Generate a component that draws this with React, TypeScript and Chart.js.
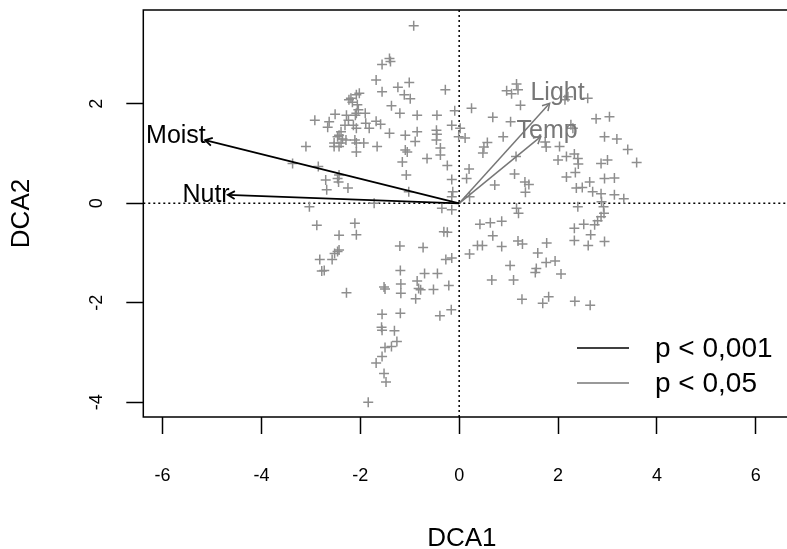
import React, { useEffect, useRef } from "react";
import { Chart, registerables } from "chart.js";

Chart.register(...registerables);

// Site scores (DCA1, DCA2)
const siteX = [
  -0.92, -1.41, -1.56, -1.39, -1.68, -1.56, -1.24, -1.01, -1.11, -0.99,
  -0.28, -1.37, -2.02, -2.08, -2.19, -2.23, -2.16, -2.06, -2.04, -2.08,
  -2.10, -1.90, -2.51, -2.63, -2.66, -2.92, -2.28, -2.24, -2.31, -2.14,
  -2.08, -1.89, -1.82, -1.68, -1.59, -1.41, -2.39, -2.43, -2.46, -2.36,
  -2.39, -2.43, -2.53, -2.53, -2.29, -2.11, -2.08, -1.93, -2.08, -1.66,
  -3.10, -3.37, -2.85, -2.43, -2.46, -2.44, -2.70, -2.68, -2.25, -3.03,
  -1.72, -1.20, -0.85, -0.45, -0.09, -1.09, -0.85, -0.89, -0.46, -0.45,
  -0.46, -0.15, 0.02, -0.01, 0.12, -1.09, -1.05, -0.38, -0.38, -0.65,
  -1.15, -1.07, -0.24, -0.15, 0.20, 0.15, -1.02, -0.13, -0.15, 0.21,
  -0.35, -0.15, 0.25, 0.68, 1.04, 0.96, 1.06, 1.16, 1.19, 1.24,
  0.89, 0.57, 0.50, 0.48, 1.15, 1.12, 0.72, 1.16, 1.20, 2.14,
  2.20, 2.60, 2.77, 3.04, 2.94, 3.19, 3.41, 3.59, 1.74, 1.76,
  2.03, 2.30, 2.26, 2.00, 2.17, 2.33, 2.40, 2.41, 2.17, 2.35,
  2.37, 2.49, 2.64, 2.70, 2.87, 3.00, 2.94, 3.14, 2.87, 3.14,
  3.33, 2.88, 2.40, 2.92, 2.87, 2.80, 2.74, 1.33, 1.41, 1.34,
  -2.88, -2.11, -2.08, -2.43, -2.43, -2.46, -2.52, -2.82, -2.57, -2.78,
  -2.73, -2.28, -1.20, -0.73, -0.31, -0.24, -0.27, -0.15, -1.19, -0.70,
  -0.44, -1.52, -1.50, -1.18, -1.18, -0.85, -0.82, -0.78, -0.52, -0.21,
  -0.88, -1.56, -1.19, -0.39, -0.16, -1.57, -1.56, -1.31, -1.26, -1.37,
  -1.50, -1.56, -1.68, -1.52, -1.48, -1.84, 0.42, 0.63, 0.86, 0.68,
  0.21, 0.37, 0.47, 0.86, 1.03, 0.66, 1.10, 1.19, 1.28, 1.27,
  1.59, 1.77, 1.54, 1.56, 1.76, 1.94, 2.06, 1.69, 1.81, 2.34,
  2.65, 2.33, 2.52, 2.66, 2.33, 2.61, 2.94, 2.93,
];
const siteY = [
  3.57, 2.91, 2.79, 2.85, 2.48, 2.24, 2.33, 2.43, 2.18, 2.10,
  2.28, 1.96, 2.21, 2.18, 2.11, 2.08, 2.03, 1.98, 1.88, 1.81,
  1.77, 1.81, 1.79, 1.64, 1.53, 1.67, 1.77, 1.67, 1.57, 1.57,
  1.51, 1.61, 1.51, 1.65, 1.59, 1.41, 1.44, 1.37, 1.34, 1.29,
  1.21, 1.14, 1.21, 1.14, 1.27, 1.27, 1.21, 1.21, 1.03, 1.14,
  1.14, 0.80, 0.74, 0.57, 0.50, 0.43, 0.47, 0.27, 0.31, -0.07,
  0.00, 1.81, 1.77, 1.77, 1.86, 1.37, 1.44, 1.24, 1.47, 1.39,
  1.27, 1.57, 1.51, 1.34, 1.31, 1.07, 1.03, 1.11, 0.97, 0.90,
  0.83, 0.57, 0.76, 0.48, 0.69, 0.50, 0.23, 0.23, 0.13, 0.13,
  -0.10, -0.13, 1.91, 1.73, 1.64, 2.26, 2.20, 2.40, 2.28, 1.97,
  1.34, 1.22, 1.13, 1.01, 0.94, 0.59, 0.37, -0.10, -0.20, 2.08,
  2.14, 2.11, 1.70, 1.74, 1.34, 1.29, 1.08, 0.82, 1.23, 1.13,
  1.14, 1.51, 1.58, 0.87, 0.94, 0.99, 0.90, 0.79, 0.53, 0.62,
  0.31, 0.32, 0.43, 0.23, 0.80, 0.87, 0.50, 0.51, 0.19, 0.17,
  0.09, 0.03, -0.07, -0.07, -0.27, -0.35, -0.43, 0.43, 0.38, 0.22,
  -0.44, -0.40, -0.63, -0.64, -0.94, -0.97, -1.01, -1.13, -1.13, -1.36,
  -1.35, -1.80, -0.86, -0.89, -0.57, -0.58, -1.13, -1.10, -1.35, -1.41,
  -1.41, -1.68, -1.72, -1.62, -1.81, -1.56, -1.71, -1.74, -1.73, -1.65,
  -1.92, -2.23, -2.21, -2.26, -2.14, -2.49, -2.55, -2.56, -2.78, -2.88,
  -2.90, -3.08, -3.21, -3.42, -3.59, -4.00, -0.42, -0.39, -0.36, -0.65,
  -1.02, -0.85, -0.85, -0.87, -1.25, -1.54, -1.54, -0.76, -0.82, -1.93,
  -1.00, -0.80, -1.39, -1.31, -1.19, -1.16, -1.42, -2.01, -1.88, -1.97,
  -2.05, -0.50, -0.42, -0.63, -0.75, -0.85, -0.77, -0.20,
];

// Fitted environmental vectors
const vectorNames = ["Moist", "Nutr", "Light", "Temp"];
const vectorX = [-5.14, -4.68, 1.83, 1.65];
const vectorY = [1.27, 0.17, 2.01, 1.34];
const vectorLabelX = [-5.73, -5.12, 1.99, 1.78];
const vectorLabelY = [1.35, 0.17, 2.22, 1.45];
const vectorClass = [0, 0, 1, 1];

const legendLabels = ["p < 0,001", "p < 0,05"];
const classColors = ["#000000", "#777777"];

const xTicks = [-6, -4, -2, 0, 2, 4, 6];
const yTicks = [-4, -2, 0, 2];
const xRange = [-6.39, 6.5];
const yRange = [-4.295, 3.885];

const FONT = "'Liberation Sans', Arial, Helvetica, sans-serif";
const POINT_COLOR = "#8e8e8e";
const TICK_FONT_SIZE = 18;

Chart.defaults.font.family = FONT;
Chart.defaults.font.size = TICK_FONT_SIZE;
Chart.defaults.color = "#000";

const overlayPlugin = {
  id: "overlay",
  beforeDatasetsDraw(chart: any) {
    const { ctx, chartArea: a, scales } = chart;
    const x0 = scales.x.getPixelForValue(0);
    const y0 = scales.y.getPixelForValue(0);
    ctx.save();
    ctx.strokeStyle = "#000";
    ctx.lineWidth = 1.5;
    ctx.setLineDash([2, 3]);
    ctx.beginPath();
    ctx.moveTo(x0, a.top);
    ctx.lineTo(x0, a.bottom);
    ctx.moveTo(a.left, y0);
    ctx.lineTo(chart.width, y0);
    ctx.stroke();
    ctx.restore();
  },
  afterDatasetsDraw(chart: any) {
    const { ctx, chartArea: a, scales } = chart;
    const xs = scales.x;
    const ys = scales.y;
    const ox = xs.getPixelForValue(0);
    const oy = ys.getPixelForValue(0);
    ctx.save();
    // arrow heads and labels
    vectorNames.forEach((name, i) => {
      const tx = xs.getPixelForValue(vectorX[i]);
      const ty = ys.getPixelForValue(vectorY[i]);
      const ang = Math.atan2(ty - oy, tx - ox);
      const len = 8;
      const spread = Math.PI / 6;
      const col = classColors[vectorClass[i]];
      ctx.strokeStyle = col;
      ctx.lineWidth = vectorClass[i] === 0 ? 1.8 : 1.5;
      ctx.beginPath();
      ctx.moveTo(tx - len * Math.cos(ang - spread), ty - len * Math.sin(ang - spread));
      ctx.lineTo(tx, ty);
      ctx.lineTo(tx - len * Math.cos(ang + spread), ty - len * Math.sin(ang + spread));
      ctx.stroke();
      ctx.fillStyle = col;
      ctx.font = `25px ${FONT}`;
      ctx.textAlign = "center";
      ctx.textBaseline = "middle";
      ctx.fillText(name, xs.getPixelForValue(vectorLabelX[i]), ys.getPixelForValue(vectorLabelY[i]));
    });
    // box
    ctx.strokeStyle = "#000";
    ctx.lineWidth = 1.5;
    ctx.setLineDash([]);
    ctx.beginPath();
    ctx.moveTo(chart.width, a.top);
    ctx.lineTo(a.left, a.top);
    ctx.lineTo(a.left, a.bottom);
    ctx.lineTo(chart.width, a.bottom);
    ctx.stroke();
    // legend
    legendLabels.forEach((lab, i) => {
      const ly = 348 + i * 35;
      ctx.strokeStyle = classColors[i];
      ctx.lineWidth = 1.5;
      ctx.beginPath();
      ctx.moveTo(577, ly);
      ctx.lineTo(629, ly);
      ctx.stroke();
      ctx.fillStyle = "#000";
      ctx.font = `28px ${FONT}`;
      ctx.textAlign = "left";
      ctx.textBaseline = "middle";
      ctx.fillText(lab, 655, ly + 1);
    });
    ctx.restore();
  },
};

export default function App() {
  const ref = useRef<HTMLCanvasElement | null>(null);
  useEffect(() => {
    if (!ref.current) return;
    const sites = siteX.map((x, i) => ({ x, y: siteY[i] }));
    const vectorSets = vectorNames.map((name, i) => ({
      label: name,
      type: "scatter" as const,
      data: [
        { x: 0, y: 0 },
        { x: vectorX[i], y: vectorY[i] },
      ],
      showLine: true,
      borderColor: classColors[vectorClass[i]],
      borderWidth: vectorClass[i] === 0 ? 1.8 : 1.5,
      pointRadius: 0,
      order: 1,
    }));
    const tickFont = { family: FONT, size: TICK_FONT_SIZE, lineHeight: 1.2 };
    const chart = new Chart(ref.current, {
      type: "scatter",
      data: {
        datasets: [
          ...vectorSets,
          {
            label: "sites",
            data: sites,
            pointStyle: "cross",
            pointRadius: 5,
            borderColor: POINT_COLOR,
            backgroundColor: POINT_COLOR,
            borderWidth: 1.5,
            order: 5,
          } as any,
        ],
      },
      options: {
        responsive: false,
        maintainAspectRatio: false,
        animation: false,
        devicePixelRatio: 1,
        layout: { padding: { left: 0, top: 10, right: 3.3, bottom: 0 } },
        plugins: { legend: { display: false }, tooltip: { enabled: false } },
        scales: {
          x: {
            type: "linear",
            min: xRange[0],
            max: xRange[1],
            afterBuildTicks: (s: any) => {
              s.ticks = xTicks.map((v) => ({ value: v }));
            },
            afterFit: (s: any) => {
              s.height = 132;
              s.paddingLeft = 0;
              s.paddingRight = 0;
            },
            border: { display: false },
            grid: {
              drawOnChartArea: false,
              drawTicks: true,
              tickLength: 17,
              tickColor: "#000",
              tickWidth: 1.5,
            },
            ticks: {
              autoSkip: false,
              color: "#000",
              font: tickFont,
              padding: 31,
              minRotation: 0,
              maxRotation: 0,
              callback: (v: any) => String(v),
            },
            title: {
              display: true,
              text: "DCA1",
              color: "#000",
              font: { family: FONT, size: 26, lineHeight: 1.2 },
              padding: { top: 0, bottom: -5.6 },
            },
          },
          y: {
            type: "linear",
            min: yRange[0],
            max: yRange[1],
            afterBuildTicks: (s: any) => {
              s.ticks = yTicks.map((v) => ({ value: v }));
            },
            afterFit: (s: any) => {
              s.width = 143.3;
              s.paddingTop = 0;
              s.paddingBottom = 0;
            },
            border: { display: false },
            grid: {
              drawOnChartArea: false,
              drawTicks: true,
              tickLength: 17,
              tickColor: "#000",
              tickWidth: 1.5,
            },
            ticks: {
              autoSkip: false,
              color: "#000",
              font: tickFont,
              padding: 21,
              minRotation: 90,
              maxRotation: 90,
              crossAlign: "center",
              callback: (v: any) => String(v),
            },
            title: {
              display: true,
              text: "DCA2",
              color: "#000",
              font: { family: FONT, size: 26, lineHeight: 1.2 },
              padding: { top: 6.4, bottom: 0 },
            },
          },
        },
      },
      plugins: [overlayPlugin],
    } as any);
    return () => chart.destroy();
  }, []);
  return (
    <div
      style={{
        position: "fixed",
        left: 0,
        top: 0,
        width: 787,
        height: 549,
        background: "#fff",
        overflow: "hidden",
      }}
    >
      <canvas ref={ref} width={787} height={549} style={{ display: "block" }} />
    </div>
  );
}
